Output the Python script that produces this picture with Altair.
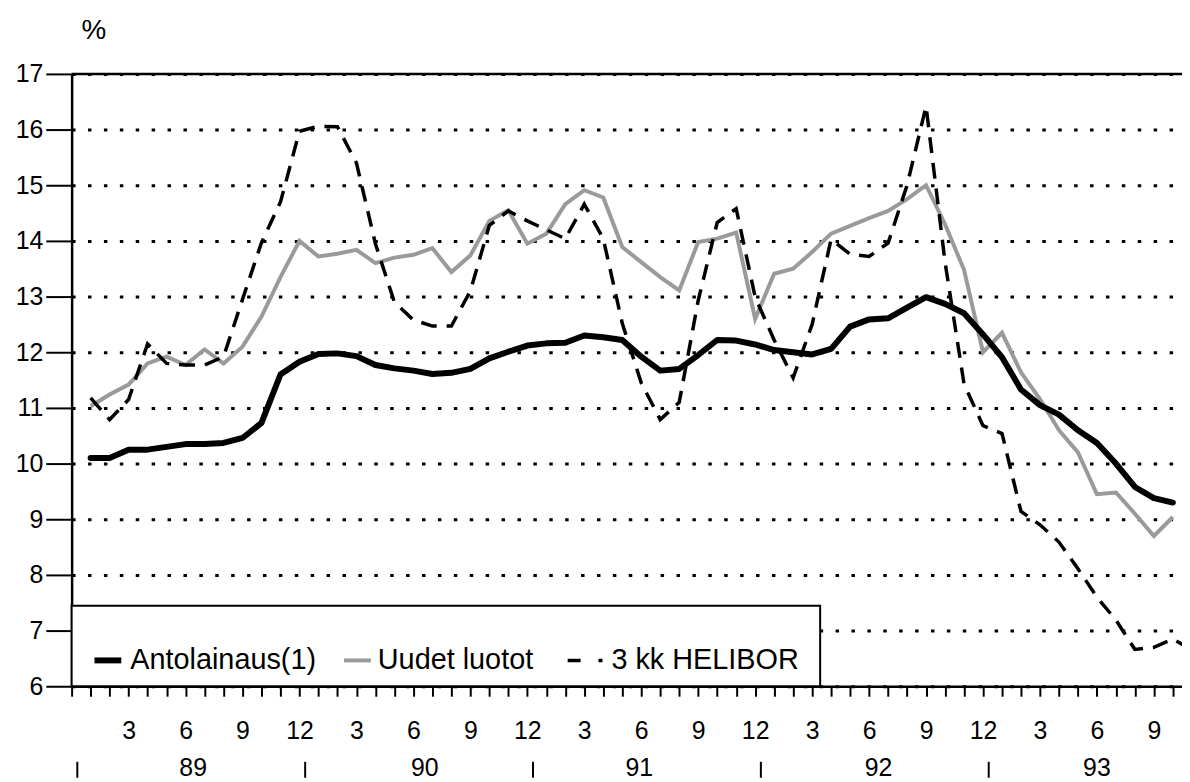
import altair as alt
import pandas as pd

# ---------------- data ----------------
# month index: 1 = Jan 1989 ... 58 = Oct 1993
months = list(range(1, 59))
antolainaus = [10.10, 10.10, 10.25, 10.25, 10.30, 10.35, 10.35, 10.37, 10.46, 10.73,
               11.60, 11.83, 11.97, 11.98, 11.93, 11.77, 11.71, 11.67, 11.61, 11.63,
               11.70, 11.89, 12.01, 12.12, 12.16, 12.17, 12.30, 12.27, 12.22, 11.92,
               11.67, 11.70, 11.95, 12.22, 12.21, 12.14, 12.04, 12.00, 11.96, 12.06,
               12.46, 12.59, 12.61, 12.80, 12.99, 12.87, 12.70, 12.32, 11.91, 11.33,
               11.05, 10.88, 10.60, 10.37, 10.00, 9.58, 9.38, 9.30]
uudet = [11.03, 11.24, 11.42, 11.80, 11.92, 11.77, 12.05, 11.80, 12.10, 12.64,
         13.35, 14.00, 13.72, 13.77, 13.84, 13.60, 13.70, 13.75, 13.87, 13.44,
         13.74, 14.36, 14.55, 13.95, 14.13, 14.66, 14.91, 14.78, 13.89, 13.62,
         13.35, 13.11, 13.98, 14.04, 14.15, 12.60, 13.41, 13.50, 13.80, 14.13,
         14.27, 14.41, 14.54, 14.75, 15.00, 14.30, 13.48, 12.00, 12.35, 11.64,
         11.16, 10.60, 10.20, 9.45, 9.48, 9.10, 8.70, 9.04]
helibor_months = list(range(1, 60))
helibor = [11.18, 10.79, 11.15, 12.15, 11.80, 11.77, 11.77, 11.92, 12.95, 13.97,
           14.70, 15.97, 16.06, 16.05, 15.40, 13.95, 12.90, 12.58, 12.47, 12.47,
           13.10, 14.28, 14.54, 14.36, 14.20, 14.04, 14.66, 14.04, 12.52, 11.45,
           10.79, 11.10, 12.93, 14.33, 14.58, 12.99, 12.22, 11.54, 12.50, 14.03,
           13.76, 13.72, 13.96, 15.00, 16.42, 13.62, 11.43, 10.68, 10.54, 9.14,
           8.90, 8.59, 8.11, 7.60, 7.19, 6.66, 6.70, 6.85, 6.65]

month_ticks = list(range(0, 59))
y_ticks = list(range(6, 18))
year_labels = ["89", "90", "91", "92", "93"]
year_label_pos = [6.4, 18.6, 29.9, 42.5, 54.0]
year_sep_pos = [0.3, 12.3, 24.3, 36.3, 48.3]
series_names = ["Antolainaus(1)", "Uudet luotot", "3 kk HELIBOR"]

# ---------------- layout ----------------
W, H = 1117, 616
FONT = "Liberation Sans"
FS = 25
LFS = 29
XMAX = 58.48
GRAY = "#9a9a9a"

x_scale = alt.Scale(domain=[0, XMAX], nice=False, zero=False)
y_scale = alt.Scale(domain=[6, 17], nice=False, zero=False)

x_axis = alt.Axis(
    values=month_ticks,
    labelExpr="datum.value > 0 && datum.value % 3 == 0 ? toString((datum.value - 1) % 12 + 1) : ''",
    tickSize=10, tickWidth=2, tickColor="black",
    domainColor="black", domainWidth=2.5,
    labelFont=FONT, labelFontSize=FS, labelColor="black", labelPadding=23,
    labelOverlap=False, labelFlush=False, labelBound=False,
    grid=False, title=None,
)
y_axis = alt.Axis(
    values=y_ticks,
    tickSize=26, tickWidth=2, tickColor="black",
    domainColor="black", domainWidth=2.5,
    labelFont=FONT, labelFontSize=FS, labelColor="black", labelPadding=3,
    grid=True, gridColor="black", gridDash=[3.5, 12.5], gridWidth=3,
    title="%", titleAngle=0, titleX=22, titleY=-44, titleAlign="center",
    titleBaseline="middle", titleFont=FONT, titleFontSize=28,
    titleFontWeight="normal", titleColor="black",
)

x_enc = alt.X("m:Q", scale=x_scale, axis=x_axis)
y_enc = alt.Y("v:Q", scale=y_scale, axis=y_axis)

df_a = pd.DataFrame({"m": months, "v": antolainaus})
df_u = pd.DataFrame({"m": months, "v": uudet})
df_h = pd.DataFrame({"m": helibor_months, "v": helibor})

line_a = alt.Chart(df_a).mark_line(
    color="black", strokeWidth=6, strokeJoin="round", strokeCap="round"
).encode(x=x_enc, y=y_enc)
line_u = alt.Chart(df_u).mark_line(
    color=GRAY, strokeWidth=4, strokeJoin="miter"
).encode(x=x_enc, y=y_enc)
line_h = alt.Chart(df_h).mark_line(
    color="black", strokeWidth=3.5, strokeDash=[16, 10], clip=True
).encode(x=x_enc, y=y_enc)

# top frame line
one = pd.DataFrame({"m": [0]})
top_rule = alt.Chart(one).mark_rule(color="black", strokeWidth=2.5).encode(
    x=alt.value(0), x2=alt.value(W + 2), y=alt.value(0)
)

# year row under the month labels
df_years = pd.DataFrame({"m": year_label_pos, "t": year_labels})
df_seps = pd.DataFrame({"m": year_sep_pos})
years = alt.Chart(df_years).mark_text(
    font=FONT, fontSize=FS, color="black", baseline="middle", align="center"
).encode(x=x_enc, y=alt.value(H + 82), text="t:N")
seps = alt.Chart(df_seps).mark_rule(color="black", strokeWidth=2).encode(
    x=x_enc, y=alt.value(H + 76), y2=alt.value(H + 92)
)

# legend box
LY = 590
legend_box = alt.Chart(one).mark_rect(
    fill="white", stroke="black", strokeWidth=2
).encode(x=alt.value(0), x2=alt.value(753), y=alt.value(535), y2=alt.value(H))
sym_a = alt.Chart(one).mark_rule(color="black", strokeWidth=6).encode(
    x=alt.value(23), x2=alt.value(50), y=alt.value(LY)
)
sym_u = alt.Chart(one).mark_rule(color=GRAY, strokeWidth=4).encode(
    x=alt.value(274), x2=alt.value(301), y=alt.value(LY)
)
sym_h = alt.Chart(one).mark_rule(color="black", strokeWidth=3.5, strokeDash=[13, 18, 4, 40]).encode(
    x=alt.value(499), x2=alt.value(536), y=alt.value(LY)
)
df_leg = pd.DataFrame({"t": series_names, "px": [59, 308, 543]})
leg_text = alt.Chart(df_leg).mark_text(
    font=FONT, fontSize=LFS, color="black", baseline="middle", align="left"
).encode(x=alt.X("px:Q", scale=None), y=alt.value(LY), text="t:N")

chart = alt.layer(
    top_rule, line_u, line_h, line_a, legend_box, sym_a, sym_u, sym_h, leg_text, years, seps
).properties(
    width=W, height=H,
    autosize=alt.AutoSizeParams(type="none"),
    padding={"left": 64, "top": 64, "right": 0, "bottom": 92},
).configure_view(stroke=None).configure(background="white")

chart.save("out.html", embed_options={"renderer": "svg", "actions": False})
